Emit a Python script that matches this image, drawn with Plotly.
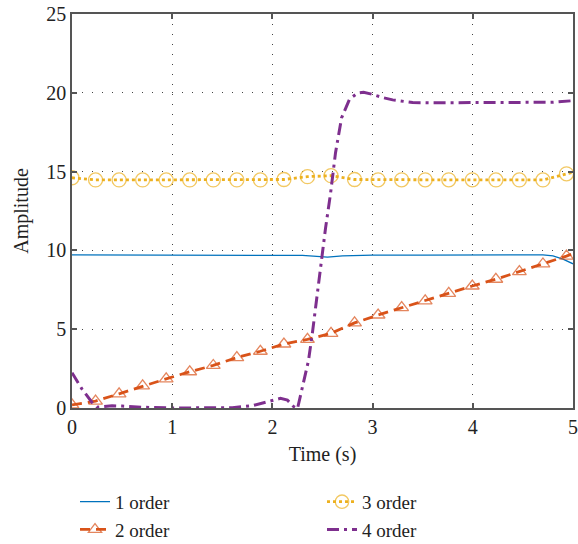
import plotly.graph_objects as go

# ---- data ----
t_marks = [0, 0.235, 0.47, 0.705, 0.94, 1.175, 1.41, 1.645, 1.88, 2.115, 2.35,
           2.585, 2.82, 3.055, 3.29, 3.525, 3.76, 3.995, 4.23, 4.465, 4.7, 4.935, 5.0]

o1_t = [0, 0.5, 1, 1.5, 2, 2.3, 2.45, 2.55, 2.7, 3, 3.5, 4, 4.5, 4.7, 4.8, 4.9, 5.0]
o1_y = [9.72, 9.7, 9.68, 9.68, 9.68, 9.68, 9.6, 9.57, 9.65, 9.7, 9.7, 9.7, 9.72, 9.72, 9.65, 9.45, 9.15]

o2_y = [0.2, 0.44, 0.9, 1.4, 1.85, 2.3, 2.7, 3.2, 3.6, 4.06, 4.35, 4.74, 5.4, 5.9,
        6.37, 6.8, 7.27, 7.74, 8.17, 8.65, 9.14, 9.64, 9.8]

o3_y = [14.61, 14.47, 14.47, 14.47, 14.47, 14.47, 14.47, 14.47, 14.47, 14.5, 14.68,
        14.74, 14.5, 14.48, 14.48, 14.48, 14.48, 14.48, 14.47, 14.47, 14.47, 14.86, 14.95]

o4_t = [0, 0.1, 0.2, 0.25, 0.3, 0.4, 0.5, 0.7, 1.0, 1.3, 1.6, 1.8, 1.95, 2.08, 2.15,
        2.21, 2.25, 2.31, 2.36, 2.40, 2.44, 2.49, 2.53, 2.58, 2.63, 2.69, 2.77, 2.85,
        2.91, 3.0, 3.1, 3.2, 3.3, 3.4, 3.6, 4.0, 4.5, 4.8, 5.0]
o4_y = [2.24, 1.2, 0.35, 0.05, 0.08, 0.14, 0.12, 0.05, 0.0, 0.0, 0.02, 0.15, 0.4, 0.61,
        0.5, 0.1, -0.05, 1.6, 3.0, 4.8, 6.85, 9.4, 11.4, 13.6, 16.2, 18.4, 19.6, 19.98,
        20.03, 19.9, 19.7, 19.55, 19.45, 19.38, 19.37, 19.38, 19.38, 19.4, 19.5]

x_ticks = [0, 1, 2, 3, 4, 5]
y_ticks = [0, 5, 10, 15, 20, 25]

names = ["1 order", "2 order", "3 order", "4 order"]
colors = ["#0072BD", "#D95319", "#EDB120", "#7E2F8E"]

FONT = "Liberation Serif"
FS = 20
msize = [12] * (len(t_marks) - 1) + [0]

fig = go.Figure()
fig.add_trace(go.Scatter(x=o1_t, y=o1_y, mode="lines", name=names[0], legendrank=1,
                         line=dict(color=colors[0], width=1.3)))
fig.add_trace(go.Scatter(x=t_marks, y=o2_y, mode="lines+markers", name=names[1], legendrank=3,
                         line=dict(color=colors[1], width=2.8, dash="10px,6px"),
                         marker=dict(symbol="triangle-up-open", size=msize, color=colors[1],
                                     line=dict(width=1.3, color=colors[1]))))
fig.add_trace(go.Scatter(x=t_marks, y=o3_y, mode="lines+markers", name=names[2], legendrank=2,
                         line=dict(color=colors[2], width=2.8, dash="3px,3px"),
                         marker=dict(symbol="circle-open", size=[14] * (len(t_marks) - 1) + [0],
                                     color=colors[2], line=dict(width=1.3, color=colors[2]))))
fig.add_trace(go.Scatter(x=o4_t, y=o4_y, mode="lines", name=names[3], legendrank=4,
                         line=dict(color=colors[3], width=3, dash="12px,5px,3px,5px")))

axis_common = dict(
    showline=True, linecolor="#555555", linewidth=1.5, mirror="ticks",
    ticks="inside", ticklen=5, tickcolor="#555555", tickwidth=1.5,
    showgrid=True, gridcolor="#444444", gridwidth=1, griddash="1px,9px",
    zeroline=False, tickfont=dict(family=FONT, size=FS, color="#222222"),
    title_font=dict(family=FONT, size=FS, color="#222222"),
    ticklabeloverflow="allow",
)

fig.update_xaxes(range=[0, 5], tickvals=x_ticks, title_text="Time (s)",
                 title_standoff=10, automargin=False, **axis_common)
fig.update_yaxes(range=[0, 25], tickvals=y_ticks, title_text="Amplitude",
                 title_standoff=12, automargin=False, **axis_common)

fig.update_layout(
    width=578, height=544,
    margin=dict(l=72, r=5, t=14, b=136, autoexpand=False),
    plot_bgcolor="white", paper_bgcolor="white",
    font=dict(family=FONT, size=FS, color="#222222"),
    legend=dict(orientation="h", x=0.006, xanchor="left", y=-0.19, yanchor="top",
                entrywidth=202, entrywidthmode="pixels", tracegroupgap=0,
                font=dict(family=FONT, size=19, color="#222222"),
                bgcolor="rgba(0,0,0,0)", itemwidth=30),
    showlegend=True,
)

fig.write_html("out.html")
